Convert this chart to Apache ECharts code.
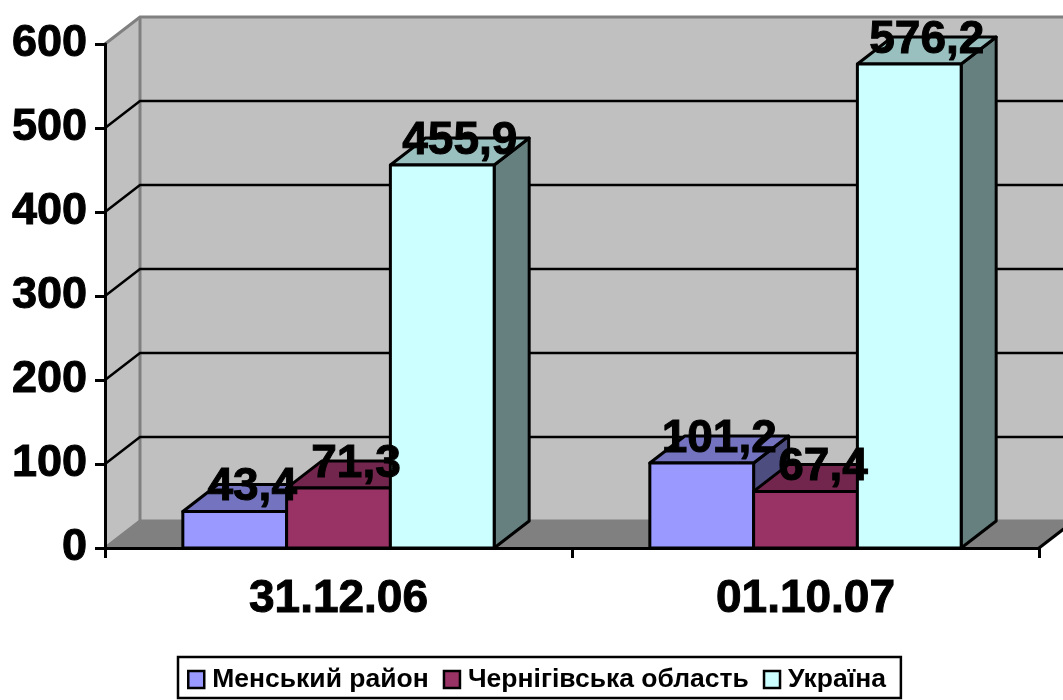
<!DOCTYPE html>
<html><head><meta charset="utf-8">
<style>html,body{margin:0;padding:0;background:#fff}#c{width:1063px;height:700px}</style>
<script src="https://cdn.jsdelivr.net/npm/echarts@6/dist/echarts.min.js"></script>
</head><body><div id="c"></div>
<script>
const categories = ['31.12.06', '01.10.07'];
const seriesNames = ['Менський район', 'Чернігівська область', 'Україна'];
const menskValues = [43.4, 101.2];
const chernihivValues = [71.3, 67.4];
const ukraineValues = [455.9, 576.2];
const yTicks = [0, 100, 200, 300, 400, 500, 600];

const FONT = '"Liberation Sans", Arial, sans-serif';
const DX = 35, DY = -27;
const colors = [
  { front: '#9999FF', top: '#7373BF', side: '#4D4D80' },
  { front: '#993366', top: '#73264D', side: '#4D1A33' },
  { front: '#CCFFFF', top: '#99BFBF', side: '#668080' }
];
const allValues = [menskValues, chernihivValues, ukraineValues];

function barGeom(api, cat, si, v) {
  const band = api.size([1, 0])[0];
  const w = band / 4.5;
  const base = api.coord([cat, 0]);
  const topPt = api.coord([cat, v]);
  const x0 = base[0] - 1.5 * w + si * w;
  return { x0, x1: x0 + w, y0: base[1], y1: topPt[1], w };
}
function poly(points, fill, stroke, lw) {
  return { type: 'polygon', shape: { points }, style: { fill, stroke, lineWidth: lw, lineJoin: 'round' } };
}
function barSeries(si) {
  return {
    type: 'custom', name: seriesNames[si], z: 2 + si,
    coordinateSystem: 'cartesian2d',
    itemStyle: { color: colors[si].front, borderColor: '#000', borderWidth: 2 },
    data: categories.map((c, i) => [i, allValues[si][i]]),
    encode: { x: 0, y: 1 },
    renderItem(params, api) {
      const g = barGeom(api, api.value(0), si, api.value(1));
      const c = colors[si];
      return { type: 'group', children: [
        poly([[g.x1, g.y1], [g.x1 + DX, g.y1 + DY], [g.x1 + DX, g.y0 + DY], [g.x1, g.y0]], c.side, '#000', 3),
        poly([[g.x0, g.y1], [g.x0 + DX, g.y1 + DY], [g.x1 + DX, g.y1 + DY], [g.x1, g.y1]], c.top, '#000', 3),
        poly([[g.x0, g.y0], [g.x0, g.y1], [g.x1, g.y1], [g.x1, g.y0]], c.front, '#000', 3)
      ] };
    }
  };
}
const labelRows = [];
allValues.forEach((vals, si) => vals.forEach((v, i) => labelRows.push([i, v, si])));

const chart = echarts.init(document.getElementById('c'), null, { renderer: 'canvas' });
chart.setOption({
  animation: false,
  backgroundColor: '#fff',
  grid: { left: 105, top: 44, width: 934, height: 504, containLabel: false },
  xAxis: {
    type: 'category', data: categories, z: 10,
    axisLine: { lineStyle: { color: '#000', width: 3 } },
    axisTick: { show: true, alignWithLabel: false, length: 10, lineStyle: { color: '#000', width: 3 } },
    axisLabel: { color: '#000', fontFamily: FONT, fontWeight: 'bold', fontSize: 46, margin: 28, textBorderColor: '#000', textBorderWidth: 1 },
    splitLine: { show: false }
  },
  yAxis: {
    type: 'value', min: 0, max: 600, interval: 100, z: 10,
    axisLine: { show: true, lineStyle: { color: '#000', width: 3 } },
    axisTick: { show: true, length: 10, lineStyle: { color: '#000', width: 3 } },
    axisLabel: { color: '#000', fontFamily: FONT, fontWeight: 'bold', fontSize: 45, margin: 18, padding: [4, 0, 0, 0], textBorderColor: '#000', textBorderWidth: 1 },
    splitLine: { show: false }
  },
  legend: {
    data: seriesNames, left: 178, top: 657, orient: 'horizontal',
    icon: 'rect', itemWidth: 16, itemHeight: 17, itemGap: 14,
    padding: [9, 15, 5, 9],
    borderColor: '#000', borderWidth: 2.5, backgroundColor: '#fff',
    itemStyle: { borderColor: '#000', borderWidth: 2.5 },
    textStyle: { color: '#000', fontFamily: FONT, fontWeight: 'bold', fontSize: 26.5, padding: [0, 0, 0, 3] }
  },
  series: [
    {
      type: 'custom', name: 'walls', z: 1, silent: true,
      coordinateSystem: 'cartesian2d',
      data: [[0, 0]],
      encode: { x: 0, y: 1 },
      renderItem(params, api) {
        const cs = params.coordSys;
        const L = cs.x, R = cs.x + cs.width;
        const yb = api.coord([0, yTicks[0]])[1];
        const yt = api.coord([0, yTicks[yTicks.length - 1]])[1];
        const kids = [
          poly([[L + DX, yb + DY], [L + DX, yt + DY], [R + DX, yt + DY], [R + DX, yb + DY]], '#C0C0C0', null, 0),
          poly([[L, yb], [L, yt], [L + DX, yt + DY], [L + DX, yb + DY]], '#C0C0C0', null, 0),
          poly([[L, yb], [L + DX, yb + DY], [R + DX, yb + DY], [R, yb]], '#808080', null, 0)
        ];
        kids.push({ type: 'line', shape: { x1: L + DX, y1: yb + DY, x2: L + DX, y2: yt + DY },
          style: { stroke: '#808080', lineWidth: 3 } });
        yTicks.forEach((t, idx) => {
          const y = api.coord([0, t])[1];
          const isEdge = idx === 0 || idx === yTicks.length - 1;
          const col = isEdge ? '#808080' : '#000';
          kids.push({ type: 'polyline', shape: { points: [[L, y], [L + DX, y + DY], [R + DX, y + DY]] },
            style: { fill: null, stroke: col, lineWidth: isEdge ? 3 : 2.5 } });
        });
        kids.push({ type: 'line', shape: { x1: R, y1: yb, x2: R + DX, y2: yb + DY },
          style: { stroke: '#000', lineWidth: 3 } });
        return { type: 'group', children: kids };
      }
    },
    barSeries(0), barSeries(1), barSeries(2),
    {
      type: 'custom', name: 'labels', z: 8, silent: true,
      coordinateSystem: 'cartesian2d',
      data: labelRows,
      encode: { x: 0, y: 1 },
      renderItem(params, api) {
        const v = api.value(1);
        const g = barGeom(api, api.value(0), api.value(2), v);
        return { type: 'text', style: {
          x: (g.x0 + g.x1) / 2 + DX / 2, y: g.y1 + DY + 3,
          text: String(v).replace('.', ','),
          fill: '#000', stroke: '#000', lineWidth: 1,
          font: 'bold 46px ' + FONT, textAlign: 'center', textVerticalAlign: 'middle'
        } };
      }
    }
  ]
});
</script></body></html>
